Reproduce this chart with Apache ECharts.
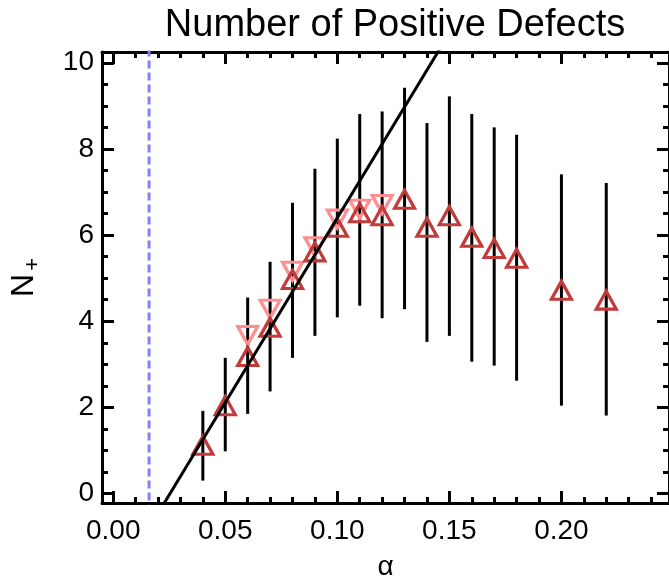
<!DOCTYPE html>
<html>
<head>
<meta charset="utf-8">
<script src="https://cdn.jsdelivr.net/npm/echarts@6/dist/echarts.min.js"></script>
<style>
html,body{margin:0;padding:0;background:#fff;}
#chart{width:669px;height:586px;}
</style>
</head>
<body>
<div id="chart"></div>
<script>
// ---- data ----
const xUp = [0.04, 0.05, 0.06, 0.07, 0.08, 0.09, 0.10, 0.11, 0.12, 0.13, 0.14, 0.15, 0.16, 0.17, 0.18, 0.20, 0.22];
const nUp = [1.12, 2.04, 3.18, 3.86, 4.97, 5.61, 6.18, 6.52, 6.45, 6.83, 6.18, 6.45, 5.95, 5.69, 5.46, 4.72, 4.49];
const errLow = [0.30, 0.98, 1.85, 2.37, 3.15, 3.66, 4.09, 4.36, 4.07, 4.28, 3.52, 3.66, 3.06, 2.97, 2.62, 2.04, 1.81];
const errHigh = [1.92, 3.15, 4.55, 5.38, 6.75, 7.54, 8.24, 8.81, 8.87, 9.42, 8.60, 9.22, 8.81, 8.50, 8.33, 7.41, 7.21];
const xDown = [0.06, 0.07, 0.08, 0.09, 0.10, 0.11, 0.12];
const nDown = [3.67, 4.28, 5.16, 5.73, 6.37, 6.60, 6.71];
const fitX = [0.0, 0.16];
const fitY = [-2.175, 11.545];
const dashX = [0.016, 0.016];
const dashY = [-1, 11];
const xMajor = [0.00, 0.05, 0.10, 0.15, 0.20];
const xMinor = [0.01,0.02,0.03,0.04,0.06,0.07,0.08,0.09,0.11,0.12,0.13,0.14,0.16,0.17,0.18,0.19,0.21,0.22,0.23,0.24];
const yMajor = [0, 2, 4, 6, 8, 10];
const yMinor = [0.5,1,1.5,2.5,3,3.5,4.5,5,5.5,6.5,7,7.5,8.5,9,9.5];
const xRange = [-0.005, 0.248];
const yRange = [-0.22, 10.25];
const titleText = 'Number of Positive Defects';
const xName = 'α';

// ---- chart ----
const chart = echarts.init(document.getElementById('chart'), null, {renderer:'canvas'});
const FONT = '"Liberation Sans", Arial, Helvetica, sans-serif';

function xAx(pos, major, withLabel) {
  const vals = major ? xMajor : xMinor;
  return {
    type:'value', position: pos, min: xRange[0], max: xRange[1],
    splitLine:{show:false},
    axisLine:{show: major, onZero:false, lineStyle:{color:'#000', width:3}},
    axisTick:{show:true, inside:true, length: major ? 12 : 6, customValues: vals, lineStyle:{color:'#000', width:3}},
    axisLabel:{show: withLabel, customValues: vals, margin: 14, color:'#000', fontSize:28, fontFamily:FONT,
      formatter: v => Number(v).toFixed(2)},
    name: withLabel ? xName : '', nameLocation:'middle', nameGap: 50,
    nameTextStyle:{fontSize:28, color:'#000', fontFamily:FONT}
  };
}
function yAx(pos, major, withLabel) {
  const vals = major ? yMajor : yMinor;
  return {
    type:'value', position: pos, min: yRange[0], max: yRange[1],
    splitLine:{show:false},
    axisLine:{show: major, onZero:false, lineStyle:{color:'#000', width:3}},
    axisTick:{show:true, inside:true, length: major ? 12 : 6, customValues: vals, lineStyle:{color:'#000', width:3}},
    axisLabel:{show: withLabel, customValues: vals, margin: 8, color:'#000', fontSize:28, fontFamily:FONT,
      formatter: v => String(Math.round(v))},
    name: withLabel ? '{n|N}{s|+}' : '', nameLocation:'middle', nameGap: 58, nameRotate: 90,
    nameTextStyle:{color:'#000', fontFamily:FONT,
      rich:{ n:{fontSize:32, color:'#000', fontFamily:FONT},
             s:{fontSize:22, color:'#000', fontFamily:FONT, padding:[18,0,0,3]} }}
  };
}

const option = {
  backgroundColor:'#fff',
  animation:false,
  title:{ text:titleText, left: 390, top: 2, textAlign:'center',
    textStyle:{fontSize:38, fontWeight:'normal', color:'#000', fontFamily:FONT}},
  grid:{ left:102, top:52, width:574, height:459, containLabel:false },
  xAxis:[ xAx('bottom', true, true), xAx('bottom', false, false), xAx('top', true, false), xAx('top', false, false) ],
  yAxis:[ yAx('left', true, true), yAx('left', false, false), yAx('right', true, false), yAx('right', false, false) ],
  series:[
    { type:'line', xAxisIndex:0, yAxisIndex:0, data: dashX.map((x,i)=>[x, dashY[i]]), symbol:'none',
      lineStyle:{color:'#8080ff', width:3, type:[8,4]}, clip:true, z:1 },
    { type:'custom', xAxisIndex:0, yAxisIndex:0,
      data: xUp.map((x,i)=>[x, errLow[i], errHigh[i]]),
      encode:{x:0, y:[1,2]},
      renderItem:(params, api)=>{
        const p1 = api.coord([api.value(0), api.value(1)]);
        const p2 = api.coord([api.value(0), api.value(2)]);
        return {type:'line', shape:{x1:p1[0], y1:p1[1], x2:p2[0], y2:p2[1]}, style:{stroke:'#000', lineWidth:3}};
      }, z:2 },
    { type:'scatter', xAxisIndex:0, yAxisIndex:0, data: xDown.map((x,i)=>[x, nDown[i]]),
      symbol:'triangle', symbolSize:[20,18], symbolRotate:180,
      itemStyle:{color:'rgba(255,255,255,0)', borderColor:'#ff8f8f', borderWidth:3.2, opacity:1}, z:3 },
    { type:'scatter', xAxisIndex:0, yAxisIndex:0, data: xUp.map((x,i)=>[x, nUp[i]]),
      symbol:'triangle', symbolSize:[20,18],
      itemStyle:{color:'rgba(255,255,255,0)', borderColor:'#c23b3b', borderWidth:3.2, opacity:1}, z:4 },
    { type:'line', xAxisIndex:0, yAxisIndex:0, data: fitX.map((x,i)=>[x, fitY[i]]), symbol:'none',
      lineStyle:{color:'#000', width:3}, clip:true, z:5 }
  ]
};
chart.setOption(option);
</script>
</body>
</html>
